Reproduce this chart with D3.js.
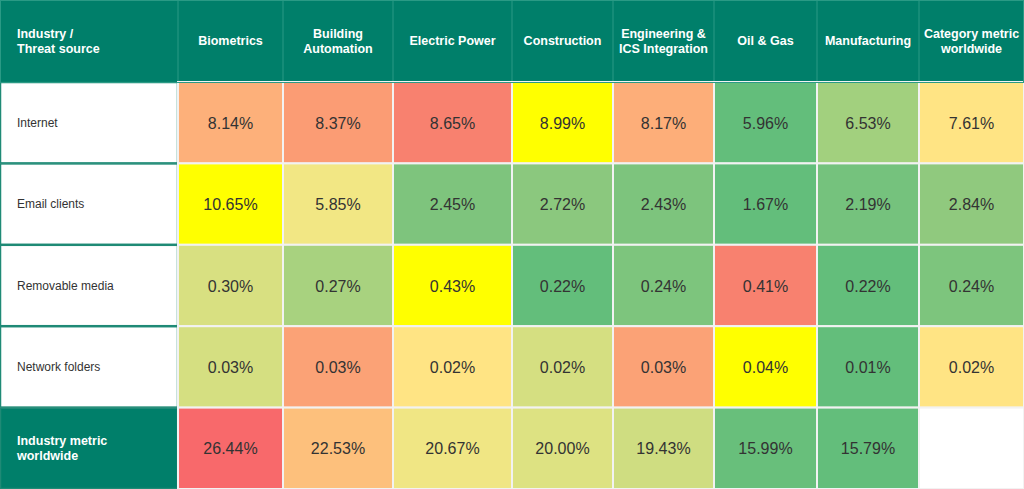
<!DOCTYPE html>
<html>
<head>
<meta charset="utf-8">
<script src="https://cdn.jsdelivr.net/npm/d3@7"></script>
<style>
  body { margin: 0; background: #fff; font-family: "Liberation Sans", Arial, sans-serif; }
</style>
</head>
<body>
<div id="chart"></div>
<script>
// data
var industries = ["Biometrics", "Building\nAutomation", "Electric Power", "Construction",
  "Engineering &\nICS Integration", "Oil & Gas", "Manufacturing", "Category metric\nworldwide"]
var sources = ["Internet", "Email clients", "Removable media", "Network folders", "Industry metric\nworldwide"]
var values = [
  [8.14, 8.37, 8.65, 8.99, 8.17, 5.96, 6.53, 7.61],
  [10.65, 5.85, 2.45, 2.72, 2.43, 1.67, 2.19, 2.84],
  [0.30, 0.27, 0.43, 0.22, 0.24, 0.41, 0.22, 0.24],
  [0.03, 0.03, 0.02, 0.02, 0.03, 0.04, 0.01, 0.02],
  [26.44, 22.53, 20.67, 20.00, 19.43, 15.99, 15.79, null]
]
// cell fill colours as they appear
var cellColors = [
  ["#fdb07a", "#fb9c74", "#f8816f", "#ffff00", "#fdae79", "#63be7b", "#a2d07e", "#ffe484"],
  ["#ffff00", "#f2e784", "#7ec47d", "#8bc87e", "#7dc47d", "#63be7b", "#75c27d", "#90c97e"],
  ["#d8e081", "#a8d27f", "#ffff00", "#63be7b", "#7dc57d", "#f8816f", "#63be7b", "#7dc57d"],
  ["#d5df81", "#fba276", "#ffe484", "#d5df81", "#fba276", "#ffff00", "#63be7b", "#ffe484"],
  ["#f8696b", "#fdc07c", "#f0e684", "#dde282", "#cfdd81", "#68bf7b", "#63be7b", "#ffffff"]
]

var W = 1024, H = 489
var teal = "#007f6a"
var colEdges = [178, 283, 393, 512, 613, 714, 817, 919, 1024]
var headH = 82

var svg = d3.select("#chart").append("svg")
  .attr("width", W).attr("height", H)

var y = d3.scaleBand().domain(d3.range(sources.length)).range([headH, H])

// header
svg.append("rect").attr("x", 0).attr("y", 0).attr("width", W).attr("height", headH).attr("fill", teal)

function multiline(sel, txt, x, cy, anchor) {
  var lines = txt.split("\n")
  var t = sel.append("text").attr("text-anchor", anchor)
    .attr("x", x).attr("y", cy - (lines.length - 1) * 7 + 4)
  lines.forEach(function (l, i) {
    t.append("tspan").attr("x", x).attr("dy", i ? 14.5 : 0).text(l)
  })
  return t
}

multiline(svg, "Industry /\nThreat source", 17, headH / 2, "start")
  .attr("fill", "#fff").attr("font-weight", "bold").attr("font-size", 12.5)

industries.forEach(function (d, i) {
  var x0 = colEdges[i], x1 = colEdges[i + 1]
  multiline(svg, d, (x0 + x1) / 2, headH / 2, "middle")
    .attr("fill", "#fff").attr("font-weight", "bold").attr("font-size", 12.5)
  svg.append("line").attr("x1", x0).attr("x2", x0).attr("y1", 0).attr("y2", headH)
    .attr("stroke", "#2a9a85").attr("stroke-width", 1)
})

// row labels
sources.forEach(function (s, r) {
  var last = r === sources.length - 1
  svg.append("rect").attr("x", 0.5).attr("y", y(r) + 0.5)
    .attr("width", colEdges[0] - 1).attr("height", y.bandwidth() - 1)
    .attr("fill", last ? teal : "#fff").attr("stroke", "#1f8a76").attr("stroke-width", 1.5)
  multiline(svg, s, 17, y(r) + y.bandwidth() / 2, "start")
    .attr("fill", last ? "#fff" : "#333").attr("font-size", last ? 12.5 : 12)
    .attr("font-weight", last ? "bold" : "normal")
})

// cells
values.forEach(function (row, r) {
  row.forEach(function (v, c) {
    var x0 = colEdges[c], x1 = colEdges[c + 1]
    svg.append("rect").attr("x", x0).attr("y", y(r))
      .attr("width", x1 - x0).attr("height", y.bandwidth())
      .attr("fill", cellColors[r][c]).attr("stroke", "#f2f2f2").attr("stroke-width", 2)
    if (v !== null) {
      svg.append("text").attr("x", (x0 + x1) / 2).attr("y", y(r) + y.bandwidth() / 2 + 6)
        .attr("text-anchor", "middle").attr("font-size", 16).attr("fill", "#333")
        .text(v.toFixed(2) + "%")
    }
  })
})

// outer border
svg.append("rect").attr("x", 0.5).attr("y", 0.5).attr("width", W - 1).attr("height", headH)
  .attr("fill", "none").attr("stroke", "#2a9a85")
</script>
</body>
</html>
